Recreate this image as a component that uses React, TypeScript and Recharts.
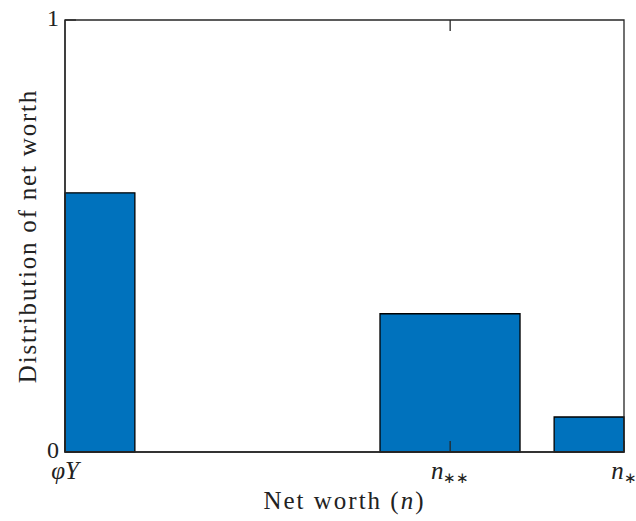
import { ComposedChart, Line, XAxis, YAxis, ReferenceArea, ReferenceLine, Label } from 'recharts'

// histogram bins on a normalised net-worth axis (phi*Y = 0, n* = 1)
const binStart = [0, 0.5635, 0.875]
const binEnd = [0.125, 0.814, 1]
const binShare = [0.6, 0.32, 0.081]

const xTickValues = [0, 0.689, 1]
const xTickBase = ['φY', 'n', 'n']
const xTickSub = ['', '∗∗', '∗']
const yTickValues = [0, 1]

const FONT = '"Liberation Serif", "Times New Roman", serif'
const AXIS = '#262626'
const BAR = '#0072BD'

const data = binStart.map((s, i) => ({ mid: (s + binEnd[i]) / 2, share: binShare[i] }))

function XTick(props: any) {
  const { x, y, payload } = props
  const i = xTickValues.indexOf(payload.value)
  if (i < 0) return null
  return (
    <text x={x} y={y + 27} textAnchor="middle" fontFamily={FONT} fontSize={25} fontStyle="italic" fill="#222">
      {xTickBase[i]}
      {xTickSub[i] && (
        <tspan dy={4} fontSize={15} fontStyle="normal">
          {xTickSub[i]}
        </tspan>
      )}
    </text>
  )
}

function YTick(props: any) {
  const { x, y, payload } = props
  return (
    <text x={x - 6} y={y + 6} textAnchor="end" fontFamily={FONT} fontSize={24} fill="#222">
      {payload.value}
    </text>
  )
}

// inward tick on the top edge of the box
function TopTick(props: any) {
  const { x1, y1, y2 } = props
  const top = Math.min(y1, y2)
  return <line x1={x1} x2={x1} y1={top} y2={top + 11} stroke={AXIS} strokeWidth={1.3} />
}

export default function App() {
  return (
    <div style={{ position: 'absolute', left: 0, top: 0, background: '#fff' }}>
      <ComposedChart width={636} height={521} data={data} margin={{ top: 20, right: 12, left: 0, bottom: 0 }}>
        <XAxis
          dataKey="mid"
          type="number"
          domain={[0, 1]}
          ticks={xTickValues}
          height={69}
          stroke={AXIS}
          strokeWidth={1.3}
          tickSize={-11}
          tickMargin={11}
          tick={<XTick />}
          interval={0}
        >
          <Label
            content={() => (
              <text x={344.5} y={509} textAnchor="middle" fontFamily={FONT} fontSize={25} letterSpacing={2} fill="#222">
                Net worth (<tspan fontStyle="italic">n</tspan>)
              </text>
            )}
          />
        </XAxis>
        <YAxis
          type="number"
          domain={[0, 1]}
          ticks={yTickValues}
          width={65}
          stroke={AXIS}
          strokeWidth={1.3}
          tickSize={-11}
          tickMargin={11}
          tick={<YTick />}
          interval={0}
        >
          <Label
            content={() => (
              <text
                x={0}
                y={0}
                transform="translate(36 236) rotate(-90)"
                textAnchor="middle"
                fontFamily={FONT}
                fontSize={25}
                letterSpacing={1.8}
                fill="#222"
              >
                Distribution of net worth
              </text>
            )}
          />
        </YAxis>
        {binStart.map((s, i) => (
          <ReferenceArea
            key={i}
            x1={s}
            x2={binEnd[i]}
            y1={0}
            y2={binShare[i]}
            fill={BAR}
            fillOpacity={1}
            stroke="#000"
            strokeWidth={1.3}
            ifOverflow="visible"
          />
        ))}
        {/* axes box */}
        <ReferenceArea x1={0} x2={1} y1={0} y2={1} fill="none" stroke={AXIS} strokeWidth={1.3} ifOverflow="visible" />
        <ReferenceLine x={xTickValues[1]} shape={<TopTick />} ifOverflow="visible" />
        <Line dataKey="share" stroke="none" dot={false} isAnimationActive={false} />
      </ComposedChart>
    </div>
  )
}
